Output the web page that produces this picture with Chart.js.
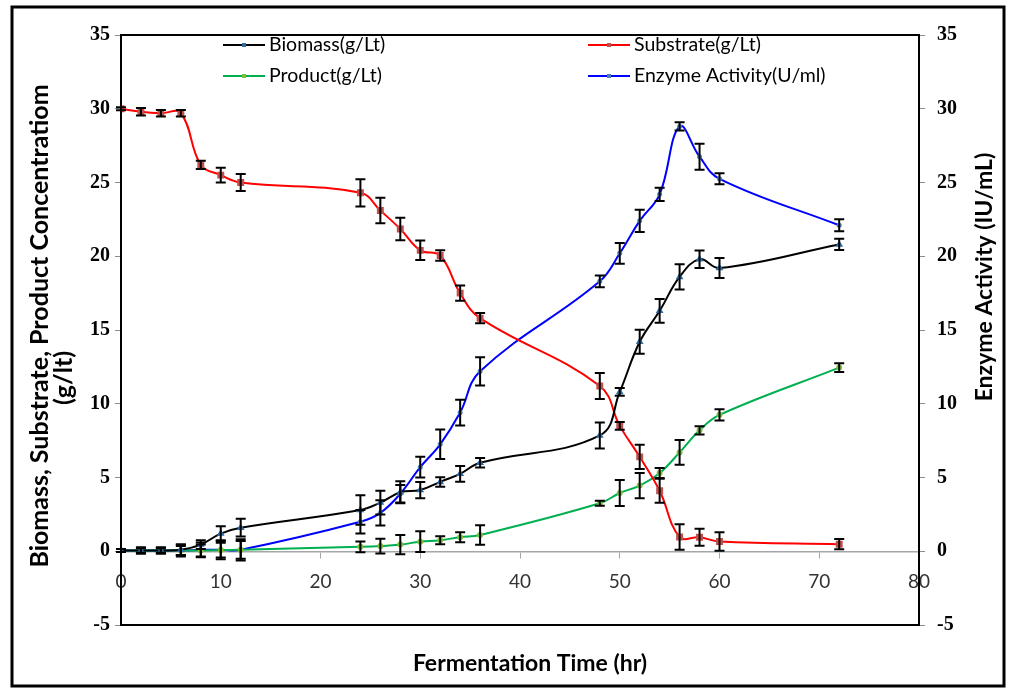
<!DOCTYPE html>
<html>
<head>
<meta charset="utf-8">
<title>Fermentation profile</title>
<script src="https://cdn.jsdelivr.net/npm/chart.js@4.4.1/dist/chart.umd.min.js"></script>
<style>
  html, body { margin: 0; padding: 0; background: #fff; }
  #wrap { width: 1009px; height: 690px; }
</style>
</head>
<body>
<div id="wrap"><canvas id="fermChart" width="1009" height="690"></canvas></div>
<script>
// sampling times (hr)
const timeHr = [0, 2, 4, 6, 8, 10, 12, 24, 26, 28, 30, 32, 34, 36, 48, 50, 52, 54, 56, 58, 60, 72];

// g/Lt
const biomass = [0.05, 0.05, 0.05, 0.1, 0.45, 1.2, 1.6, 2.8, 3.3, 4.0, 4.15, 4.7, 5.25, 6.0, 7.85, 10.8, 14.2, 16.3, 18.6, 19.8, 19.2, 20.8];
const biomassErr = [0.1, 0.2, 0.2, 0.35, 0.3, 0.5, 0.6, 1.0, 0.8, 0.75, 0.55, 0.32, 0.53, 0.32, 0.88, 0.26, 0.81, 0.8, 0.86, 0.59, 0.68, 0.38];

const substrate = [30.0, 29.8, 29.7, 29.7, 26.2, 25.5, 25.0, 24.3, 23.1, 21.85, 20.4, 20.05, 17.5, 15.8, 11.2, 8.5, 6.4, 4.1, 0.97, 0.95, 0.66, 0.48];
const substrateErr = [0.1, 0.25, 0.22, 0.22, 0.28, 0.5, 0.57, 0.92, 0.86, 0.76, 0.66, 0.36, 0.52, 0.35, 0.88, 0.27, 0.82, 0.82, 0.86, 0.58, 0.62, 0.35];

const product = [0.05, 0.05, 0.05, 0.05, 0.05, 0.08, 0.1, 0.3, 0.35, 0.45, 0.65, 0.75, 0.95, 1.1, 3.25, 3.95, 4.45, 5.3, 6.7, 8.2, 9.25, 12.45];
const productErr = [0.1, 0.2, 0.2, 0.3, 0.4, 0.5, 0.6, 0.36, 0.5, 0.65, 0.7, 0.27, 0.34, 0.66, 0.17, 0.88, 0.85, 0.34, 0.84, 0.28, 0.38, 0.29];

// U/ml, right axis
const enzyme = [0.05, 0.05, 0.05, 0.05, 0.1, 0.1, 0.1, 2.0, 2.6, 3.9, 5.7, 7.25, 9.4, 12.2, 18.3, 20.2, 22.4, 24.2, 28.8, 26.75, 25.25, 22.1];
const enzymeErr = [0.1, 0.15, 0.15, 0.4, 0.5, 0.65, 0.72, 0.8, 0.85, 0.6, 0.7, 1.0, 0.87, 0.96, 0.4, 0.7, 0.76, 0.45, 0.28, 0.88, 0.37, 0.41];

const yTicks = [-5, 0, 5, 10, 15, 20, 25, 30, 35];
const xTicks = [0, 10, 20, 30, 40, 50, 60, 70, 80];

const sansFont = 'Lato, "Open Sans", sans-serif';
const serifFont = '"Liberation Serif", "Times New Roman", serif';

function toPoints(values) {
    return timeHr.map((t, i) => ({ x: t, y: values[i] }));
}

function makeSeries(label, values, errors, color, markerColor, marker, axis, radius) {
    return {
        label: label,
        data: toPoints(values),
        errors: errors,
        yAxisID: axis,
        borderColor: color,
        borderWidth: 2,
        backgroundColor: markerColor,
        pointBackgroundColor: markerColor,
        pointBorderColor: markerColor,
        pointStyle: marker,
        pointRadius: radius,
        pointHoverRadius: radius,
        tension: 0.4,
        fill: false
    };
}

// black error bars with caps, drawn on top of the lines
const errorBars = {
    id: 'errorBars',
    afterDatasetsDraw(chart) {
        const ctx = chart.ctx;
        ctx.save();
        ctx.strokeStyle = '#000';
        ctx.lineWidth = 2;
        chart.data.datasets.forEach((ds, i) => {
            const meta = chart.getDatasetMeta(i);
            const yScale = chart.scales[ds.yAxisID];
            meta.data.forEach((pt, j) => {
                const v = ds.data[j].y;
                const e = ds.errors[j];
                const top = yScale.getPixelForValue(v + e);
                const bot = yScale.getPixelForValue(v - e);
                ctx.beginPath();
                ctx.moveTo(pt.x, top);
                ctx.lineTo(pt.x, bot);
                ctx.moveTo(pt.x - 5, top);
                ctx.lineTo(pt.x + 5, top);
                ctx.moveTo(pt.x - 5, bot);
                ctx.lineTo(pt.x + 5, bot);
                ctx.stroke();
            });
        });
        ctx.restore();
    }
};

// plot frame, outer border, axis titles and the two-column legend
const decorations = {
    id: 'decorations',
    afterDraw(chart) {
        const ctx = chart.ctx;
        const area = chart.chartArea;
        ctx.save();

        ctx.strokeStyle = '#000';
        ctx.lineWidth = 2;
        ctx.strokeRect(area.left, area.top, area.right - area.left, area.bottom - area.top);

        ctx.lineWidth = 3;
        ctx.strokeRect(12, 7, 992, 679);

        ctx.fillStyle = '#000';
        ctx.textAlign = 'center';
        ctx.textBaseline = 'middle';
        ctx.font = 'bold 23px ' + sansFont;
        ctx.fillText('Fermentation Time (hr)', 530, 664);

        ctx.save();
        ctx.translate(985, 277);
        ctx.rotate(-Math.PI / 2);
        ctx.fillText('Enzyme Activity (IU/mL)', 0, 0);
        ctx.restore();

        ctx.font = 'bold 25px ' + sansFont;
        ctx.save();
        ctx.translate(40, 326);
        ctx.rotate(-Math.PI / 2);
        ctx.fillText('Biomass, Substrate, Product Concentratiom', 0, 0);
        ctx.restore();

        ctx.save();
        ctx.translate(64, 378);
        ctx.rotate(-Math.PI / 2);
        ctx.fillText('(g/lt)', 0, 0);
        ctx.restore();

        // legend: columns at 223 and 588, rows at 45 and 76
        const cols = [223, 588];
        const rows = [45, 76];
        ctx.font = '19.5px ' + sansFont;
        ctx.textAlign = 'left';
        chart.data.datasets.forEach((ds, k) => {
            const x = cols[k % 2];
            const y = rows[Math.floor(k / 2)];
            ctx.strokeStyle = ds.borderColor;
            ctx.lineWidth = 2;
            ctx.beginPath();
            ctx.moveTo(x, y);
            ctx.lineTo(x + 42, y);
            ctx.stroke();
            ctx.fillStyle = ds.pointBackgroundColor;
            ctx.fillRect(x + 19, y - 2, 4, 4);
            ctx.fillStyle = '#000';
            ctx.fillText(ds.label, x + 46, y);
        });

        ctx.restore();
    }
};

const ctx = document.getElementById('fermChart').getContext('2d');
const fermChart = new Chart(ctx, {
    type: 'line',
    data: {
        datasets: [
            makeSeries('Biomass(g/Lt)', biomass, biomassErr, '#000000', '#2e6da4', 'triangle', 'y', 2.5),
            makeSeries('Substrate(g/Lt)', substrate, substrateErr, '#ff0000', '#c0504d', 'rect', 'y', 3.5),
            makeSeries('Product(g/Lt)', product, productErr, '#00b050', '#7fbf3f', 'circle', 'y', 2),
            makeSeries('Enzyme Activity(U/ml)', enzyme, enzymeErr, '#0000ff', '#4a7ebb', 'circle', 'y1', 1.5)
        ]
    },
    options: {
        responsive: false,
        animation: false,
        events: [],
        layout: { padding: { left: 0, right: 0, top: 35, bottom: 65 } },
        plugins: {
            legend: { display: false },
            title: { display: false },
            tooltip: { enabled: false }
        },
        scales: {
            x: {
                type: 'linear',
                position: { y: 0 },
                min: 0,
                max: 80,
                afterBuildTicks: (scale) => { scale.ticks = xTicks.map(v => ({ value: v })); },
                ticks: {
                    autoSkip: false,
                    maxRotation: 0,
                    padding: 13,
                    color: '#333333',
                    font: { family: sansFont, size: 19 }
                },
                grid: { drawOnChartArea: false, drawTicks: true, tickLength: 6, color: '#a6a6a6' },
                border: { display: true, color: '#a6a6a6', width: 1.5 }
            },
            y: {
                type: 'linear',
                position: 'left',
                min: -5,
                max: 35,
                afterBuildTicks: (scale) => { scale.ticks = yTicks.map(v => ({ value: v })); },
                afterFit: (scale) => { scale.width = 121; },
                ticks: {
                    padding: 5,
                    color: '#000',
                    font: { family: serifFont, size: 20, weight: 'bold' }
                },
                grid: { drawOnChartArea: false, drawTicks: true, tickLength: 6, color: '#8c8c8c' },
                border: { display: true, color: '#000', width: 2 }
            },
            y1: {
                type: 'linear',
                position: 'right',
                min: -5,
                max: 35,
                afterBuildTicks: (scale) => { scale.ticks = yTicks.map(v => ({ value: v })); },
                afterFit: (scale) => { scale.width = 90; },
                ticks: {
                    padding: 12,
                    color: '#000',
                    font: { family: serifFont, size: 20, weight: 'bold' }
                },
                grid: { drawOnChartArea: false, drawTicks: true, tickLength: 6, color: '#8c8c8c' },
                border: { display: true, color: '#000', width: 2 }
            }
        }
    },
    plugins: [errorBars, decorations]
});
</script>
</body>
</html>
